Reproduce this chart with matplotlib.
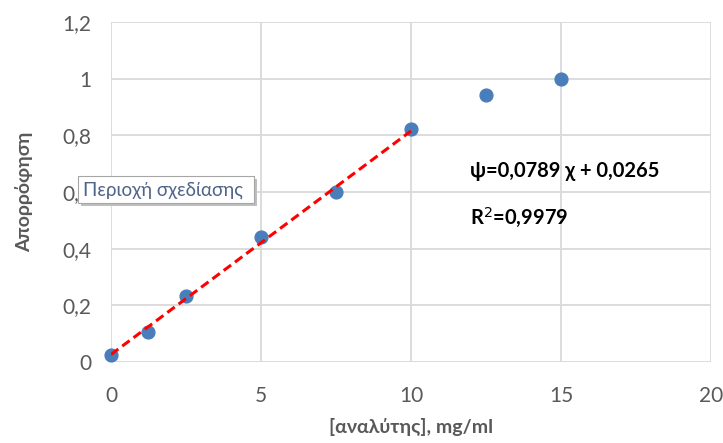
import matplotlib
matplotlib.use("Agg")
import matplotlib.pyplot as plt
from matplotlib.patches import FancyBboxPatch
import numpy as np

plt.rcParams['font.family'] = ['Lato', 'DejaVu Sans']

# Calibration data: concentration (mg/ml) vs absorbance
concentration = [0, 1.25, 2.5, 5, 7.5, 10, 12.5, 15]
absorbance = [0.025, 0.106, 0.232, 0.44, 0.60, 0.822, 0.942, 1.0]

# Linear fit over the linear range (0-10 mg/ml)
slope = 0.0789
intercept = 0.0265
r_squared = 0.9979
fit_range = [0, 10]

x_ticks = [0, 5, 10, 15, 20]
y_ticks = [0, 0.2, 0.4, 0.6, 0.8, 1.0, 1.2]
y_tick_labels = ['0', '0,2', '0,4', '0,6', '0,8', '1', '1,2']

fig = plt.figure(figsize=(7.23, 4.43), dpi=100)
ax = fig.add_axes([0.1535, 0.1828, 0.83, 0.7675])

ax.set_xlim(0, 20)
ax.set_ylim(0, 1.2)
ax.set_xticks(x_ticks)
ax.set_yticks(y_ticks)
ax.set_yticklabels(y_tick_labels)
ax.grid(True, color='#d9d9d9', linewidth=1.3)
ax.set_axisbelow(True)
for s in ax.spines.values():
    s.set_visible(False)
ax.tick_params(length=0, labelsize=15, colors='#595959', pad=14)
ax.tick_params(axis='x', pad=17)

ax.scatter(concentration, absorbance, s=85, color='#4a7ebb', zorder=3, clip_on=False)
xf = np.array(fit_range, dtype=float)
ax.plot(xf, slope * xf + intercept, color='#ff0000', linestyle=(0, (3, 1.6)),
        linewidth=2.2, zorder=4)

ax.set_xlabel('[αναλύτης], mg/ml', fontsize=14, fontweight='bold', color='#595959', labelpad=9)
ax.set_ylabel('Απορρόφηση', fontsize=14, fontweight='bold', color='#595959', labelpad=21)

eq = 'ψ=' + f'{slope:.4f}'.replace('.', ',') + ' χ + ' + f'{intercept:.4f}'.replace('.', ',')
ax.text(11.95, 0.675, eq, fontsize=14.5, fontweight='bold', color='black', va='center')
ax.text(11.95, 0.51, 'R$^{2}$=' + f'{r_squared:.4f}'.replace('.', ','), fontsize=14.5,
        fontweight='bold', color='black', va='center')

# Hover tooltip box over the plot area
shadow = FancyBboxPatch((81 / 723, 1 - 206 / 443), 176 / 723, 27 / 443,
                        boxstyle='square,pad=0', transform=fig.transFigure,
                        facecolor='#bfbfbf', edgecolor='none', zorder=9)
box = FancyBboxPatch((78 / 723, 1 - 203 / 443), 176 / 723, 27 / 443,
                     boxstyle='square,pad=0', transform=fig.transFigure,
                     facecolor='white', edgecolor='#a6a6a6', linewidth=0.8, zorder=10)
fig.patches.extend([shadow, box])
fig.text(83 / 723, 1 - 190 / 443, 'Περιοχή σχεδίασης', fontsize=13.5, color='#4e6488',
         va='center', ha='left', zorder=11)

fig.savefig('out.png', dpi=100)
